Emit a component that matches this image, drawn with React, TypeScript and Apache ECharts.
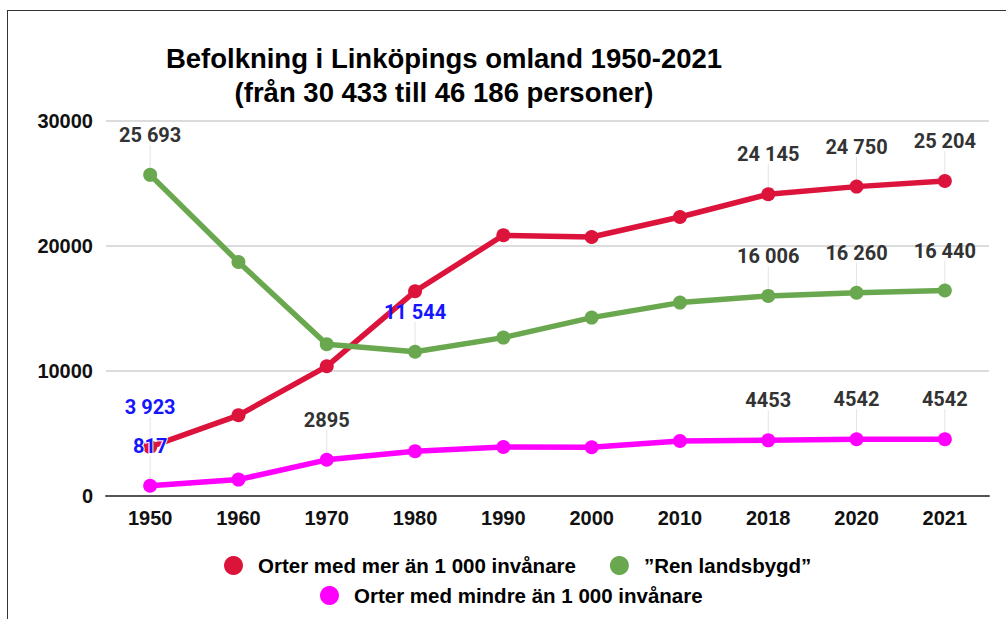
import React, { useEffect, useRef } from "react";
import * as echarts from "echarts";

const years = ["1950", "1960", "1970", "1980", "1990", "2000", "2010", "2018", "2020", "2021"];
const orterMer = [3923, 6456, 10376, 16376, 20856, 20720, 22320, 24145, 24750, 25204];
const renLandsbygd = [25693, 18720, 12136, 11544, 12672, 14272, 15472, 16006, 16260, 16440];
const orterMindre = [817, 1312, 2895, 3576, 3920, 3900, 4400, 4453, 4542, 4542];

// indices with data labels; "blue" marks highlighted labels
const merLabels = [0, 7, 8, 9];
const merBlue = [0];
const renLabels = [0, 3, 7, 8, 9];
const renBlue = [3];
const mindreLabels = [0, 2, 7, 8, 9];
const mindreBlue = [0];

const seriesNames = [
  "Orter med mer än 1 000 invånare",
  "\u201dRen landsbygd\u201d",
  "Orter med mindre än 1 000 invånare",
];
const colors = ["#dc143c", "#6aa84f", "#ff00ff"];

const spaced = (v: number) => String(v).replace(/\B(?=(\d{3})+(?!\d))/g, " ");

function buildData(values: number[], labelIdx: number[], blueIdx: number[], fmt: (v: number) => string, halo = false) {
  return values.map((v, i) => {
    if (!labelIdx.includes(i)) return { value: v, label: { show: false } };
    const blue = blueIdx.includes(i);
    return {
      value: v,
      label: {
        show: true,
        formatter: fmt(v),
        color: blue ? "#1515ff" : "#333333",
        ...(halo && blue ? { textBorderColor: "#ffffff", textBorderWidth: 2 } : {}),
      },
    };
  });
}

function leaderData(values: number[], labelIdx: number[]) {
  return labelIdx.map((i) => [i, values[i]]);
}

export default function App() {
  const ref = useRef<HTMLDivElement>(null);
  useEffect(() => {
    if (!ref.current) return;
    const chart = echarts.init(ref.current, undefined, { renderer: "svg" });
    const labelBase = {
      position: "top" as const,
      distance: 23,
      fontFamily: "Roboto",
      fontWeight: "bold" as const,
      fontSize: 20,
    };
    const lineSeries = (name: string, color: string, data: any[]) => ({
      type: "line",
      name,
      data,
      symbol: "circle",
      symbolSize: 14,
      lineStyle: { color, width: 5.5 },
      itemStyle: { color },
      label: labelBase,
      z: 3,
    });
    const leaders = [
      ...leaderData(orterMer, merLabels),
      ...leaderData(renLandsbygd, renLabels),
      ...leaderData(orterMindre, mindreLabels),
    ];
    const legendText = {
      fontFamily: "Liberation Sans",
      fontWeight: "bold",
      fontSize: 20.5,
      color: "#000",
      padding: [0, 0, 0, 10],
    };
    chart.setOption({
      animation: false,
      backgroundColor: "#ffffff",
      title: {
        text: "Befolkning i Linköpings omland 1950-2021\n(från 30 433 till 46 186 personer)",
        left: 439,
        top: 36,
        textAlign: "center",
        textStyle: {
          fontFamily: "Liberation Sans",
          fontWeight: "bold",
          fontSize: 27.5,
          lineHeight: 34,
          color: "#000",
        },
      },
      legend: [
        {
          data: [seriesNames[0], seriesNames[1]],
          left: 219,
          top: 550,
          icon: "circle",
          itemWidth: 19,
          itemHeight: 19,
          itemGap: 34,
          textStyle: legendText,
        },
        {
          data: [seriesNames[2]],
          left: 315,
          top: 580,
          icon: "circle",
          itemWidth: 19,
          itemHeight: 19,
          textStyle: legendText,
        },
      ],
      grid: { left: 106, right: 17, top: 121, bottom: 123, containLabel: false },
      xAxis: {
        type: "category",
        data: years,
        boundaryGap: true,
        axisTick: { show: false },
        axisLine: { show: true, lineStyle: { color: "#555", width: 2 } },
        axisLabel: {
          margin: 12,
          fontFamily: "Liberation Sans",
          fontWeight: "bold",
          fontSize: 20,
          color: "#111",
        },
      },
      yAxis: {
        type: "value",
        min: 0,
        max: 30000,
        interval: 10000,
        axisLine: { show: false },
        axisTick: { show: false },
        splitLine: { lineStyle: { color: "#d0d0d0", width: 1.5 } },
        axisLabel: {
          margin: 13,
          formatter: (v: number) => String(v),
          fontFamily: "Liberation Sans",
          fontWeight: "bold",
          fontSize: 20,
          color: "#111",
        },
      },
      graphic: [
        { type: "line", shape: { x1: 7, y1: 10.5, x2: 1006, y2: 10.5 }, style: { stroke: "#333", lineWidth: 1 } },
        { type: "line", shape: { x1: 7.5, y1: 10, x2: 7.5, y2: 619 }, style: { stroke: "#333", lineWidth: 1 } },
      ],
      series: [
        {
          type: "custom",
          name: "leaders",
          data: leaders,
          z: 1,
          silent: true,
          renderItem: (_params: any, api: any) => {
            const p = api.coord([api.value(0), api.value(1)]);
            return {
              type: "line",
              shape: { x1: p[0], y1: p[1] - 6, x2: p[0], y2: p[1] - 30 },
              style: { stroke: "#e4e4e4", lineWidth: 1 },
            };
          },
        },
        lineSeries(seriesNames[0], colors[0], buildData(orterMer, merLabels, merBlue, spaced)),
        lineSeries(seriesNames[1], colors[1], buildData(renLandsbygd, renLabels, renBlue, spaced)),
        lineSeries(seriesNames[2], colors[2], buildData(orterMindre, mindreLabels, mindreBlue, (v) => String(v), true)),
      ],
    });
    return () => chart.dispose();
  }, []);
  return (
    <div
      ref={ref}
      style={{ position: "fixed", left: 0, top: 0, width: 1006, height: 619 }}
    />
  );
}
